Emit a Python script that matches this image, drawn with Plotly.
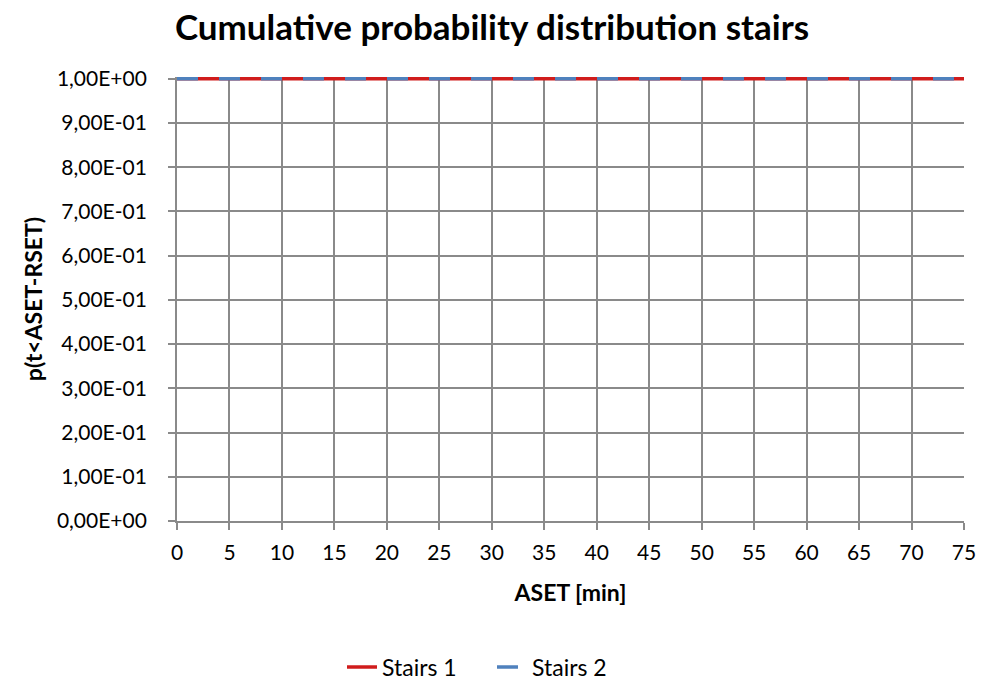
import plotly.graph_objects as go

aset_min = [0, 5, 10, 15, 20, 25, 30, 35, 40, 45, 50, 55, 60, 65, 70, 75]
stairs1 = [1.0] * len(aset_min)
stairs2 = [1.0] * len(aset_min)
y_tick_vals = [0, 0.1, 0.2, 0.3, 0.4, 0.5, 0.6, 0.7, 0.8, 0.9, 1.0]
y_tick_text = ["0,00E+00", "1,00E-01", "2,00E-01", "3,00E-01", "4,00E-01", "5,00E-01",
               "6,00E-01", "7,00E-01", "8,00E-01", "9,00E-01", "1,00E+00"]
x_tick_vals = list(range(0, 80, 5))

FONT = "Lato, Calibri, Carlito, sans-serif"
GRID = "#8a8a8a"

fig = go.Figure()
fig.add_trace(go.Scatter(x=aset_min, y=stairs1, mode="lines", name="Stairs 1",
                         line=dict(color="#d01c1c", width=3.5)))
fig.add_trace(go.Scatter(x=aset_min, y=stairs2, mode="lines", name="Stairs 2",
                         line=dict(color="#4f81bd", width=3.5, dash="21px,21px")))

W, H = 984, 680
T, B, L, R = 77, 159, 177, 20
fig.update_layout(
    width=W, height=H,
    margin=dict(l=L, r=R, t=T, b=B, autoexpand=False),
    paper_bgcolor="white", plot_bgcolor="white",
    font=dict(family=FONT, size=21, color="black"),
    title=dict(text="<b>Cumulative probability distribution stairs</b>",
               x=492 / W, xanchor="center", y=1 - 28 / H, yanchor="middle",
               font=dict(size=35, family=FONT, color="black")),
    legend=dict(orientation="h", xref="container", x=0.5, xanchor="center",
                yref="container", y=1 - 667 / H, yanchor="middle",
                font=dict(size=23), traceorder="normal",
                entrywidth=105, entrywidthmode="pixels"),
    showlegend=True,
)
fig.update_xaxes(
    range=[0, 75], tickmode="array", tickvals=x_tick_vals,
    showgrid=True, gridcolor=GRID, gridwidth=1.8,
    showline=True, linecolor=GRID, linewidth=1.8,
    ticks="outside", ticklen=7, tickcolor=GRID, tickwidth=1.8,
    tickfont=dict(size=21), zeroline=False, ticklabelstandoff=5,
    automargin=False,
    title=dict(text="<b>ASET [min]</b>", font=dict(size=23), standoff=22),
)
fig.update_yaxes(
    range=[0, 1.004], tickmode="array", tickvals=y_tick_vals, ticktext=y_tick_text,
    showgrid=True, gridcolor=GRID, gridwidth=1.8,
    showline=True, linecolor=GRID, linewidth=1.8,
    ticks="outside", ticklen=7, tickcolor=GRID, tickwidth=1.8,
    tickfont=dict(size=21), zeroline=False, ticklabelstandoff=17,
    automargin=False,
    title=dict(text="<b>p(t&lt;ASET-RSET)</b>", font=dict(size=23), standoff=8),
)

fig.write_html("out.html", config={"displayModeBar": False},
               post_script="document.body.style.margin='0';")
